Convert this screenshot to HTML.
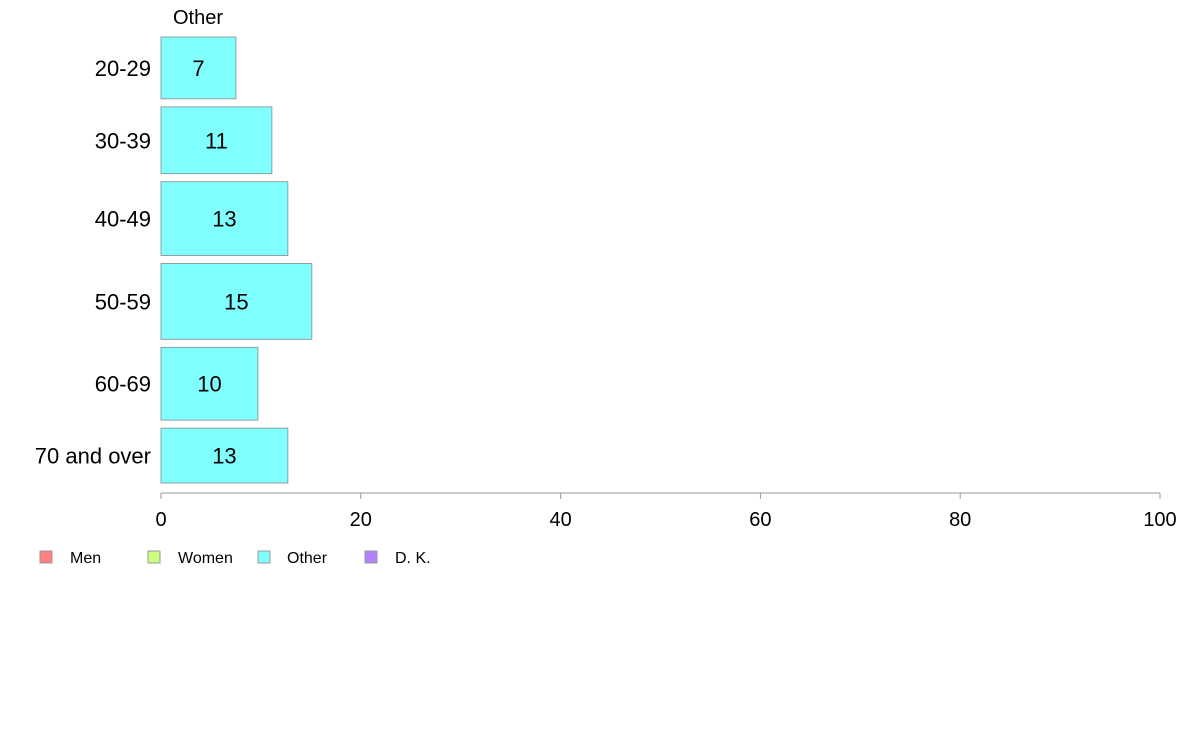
<!DOCTYPE html>
<html><head><meta charset="utf-8"><style>
body{margin:0;background:#fff;}
svg{display:block;font-family:"Liberation Sans",Arial,sans-serif;}
</style></head><body>
<svg id="chart" width="1188" height="736" viewBox="0 0 1188 736" xmlns="http://www.w3.org/2000/svg">
<text x="198" y="24" font-size="20" text-anchor="middle">Other</text>
<g id="bars"></g>
<g id="axis"></g>
<g>
<rect x="40" y="551" width="12" height="12" fill="#ff8080" stroke="#999"/>
<text x="70" y="563" font-size="16">Men</text>
<rect x="148" y="551" width="12" height="12" fill="#ccff80" stroke="#999"/>
<text x="178" y="563" font-size="16">Women</text>
<rect x="258" y="551" width="12" height="12" fill="#80ffff" stroke="#999"/>
<text x="287" y="563" font-size="16">Other</text>
<rect x="365" y="551" width="12" height="12" fill="#b380ff" stroke="#999"/>
<text x="395" y="563" font-size="16">D. K.</text>
</g>
</svg>
<script>
const categories = ["20-29","30-39","40-49","50-59","60-69","70 and over"];
const values = [7.5, 11.1, 12.7, 15.1, 9.7, 12.7];
const labels = ["7","11","13","15","10","13"];
const groupSizes = [62, 67, 74, 76, 73, 55];
const ticks = [0,20,40,60,80,100];

const NS = "http://www.w3.org/2000/svg";
const x0 = 161, x1 = 1160, yTop = 37, gap = 8, axisY = 493;
function xs(v){ return x0 + (x1 - x0) * v / 100; }
const total = groupSizes.reduce((a,b)=>a+b,0);
const avail = 483 - yTop - gap*(categories.length-1);
function mk(tag, attrs, parent){ const e=document.createElementNS(NS,tag); for(const k in attrs) e.setAttribute(k,attrs[k]); parent.appendChild(e); return e; }
const bars = document.getElementById("bars");
let y = yTop;
categories.forEach((c,i)=>{
  const h = avail * groupSizes[i] / total;
  const r = mk("rect",{x:xs(0),y:y,width:xs(values[i])-xs(0),height:h,fill:"#80ffff",stroke:"#888","stroke-width":0.8},bars);
  
  
  const t = mk("text",{x:(xs(0)+xs(values[i]))/2,y:y+h/2+8,"font-size":22,"text-anchor":"middle"},bars);
  t.textContent = labels[i];
  
  
  const cl = mk("text",{x:151,y:y+h/2+8,"font-size":22,"text-anchor":"end"},bars);
  cl.textContent = c;
  
  
  y += h + gap;
});
const ax = document.getElementById("axis");
const line = mk("line",{x1:xs(0),x2:xs(100),y1:axisY,y2:axisY,stroke:"#999"},ax);


ticks.forEach(t=>{
  const tk = mk("line",{x1:xs(t),x2:xs(t),y1:axisY,y2:axisY+6,stroke:"#999"},ax);
  
  
  const tl = mk("text",{x:xs(t),y:526,"font-size":20,"text-anchor":"middle"},ax);
  tl.textContent = t;
  
  
});
</script>
</body></html>
